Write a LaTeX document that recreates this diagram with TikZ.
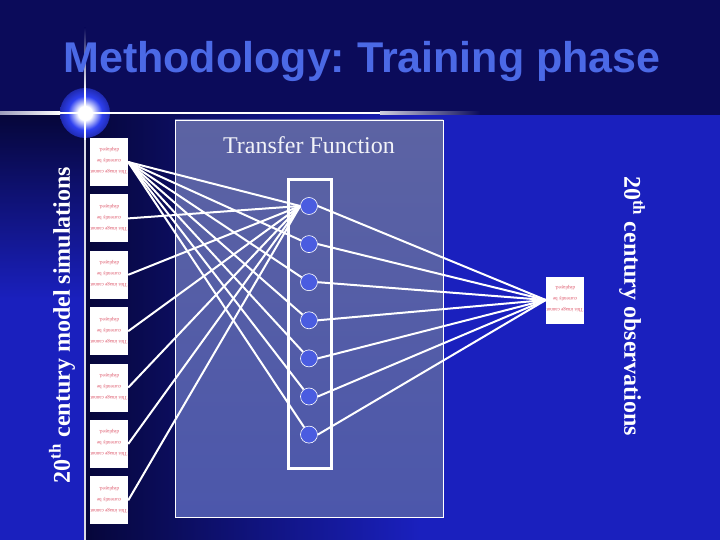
\documentclass[tikz,border=0pt]{standalone}
\usepackage{fontspec}
\setmainfont{Liberation Serif}
\newfontfamily\headfont{Liberation Sans}
\usetikzlibrary{positioning}

\definecolor{topnavy}{HTML}{0B0B5A}
\definecolor{lowdark}{HTML}{06063A}
\definecolor{brightblue}{HTML}{1A20BE}
\definecolor{titleblue}{HTML}{4B69E6}
\definecolor{panelhi}{HTML}{5C63A3}
\definecolor{panello}{HTML}{4C57AB}
\definecolor{unitblue}{HTML}{4A5CE0}
\definecolor{notered}{HTML}{DC5064}
\definecolor{flareblue}{HTML}{2E40F0}

\pgfdeclareradialshading{flare}{\pgfpoint{0bp}{0bp}}{color(0bp)=(white); color(7bp)=(white); color(17bp)=(flareblue); color(36bp)=(topnavy); color(50bp)=(topnavy)}
\newcommand{\flipnote}{\rotatebox{180}{\begin{tabular}{@{}c@{}}This image cannot\\currently be\\displayed.\end{tabular}}}
\frenchspacing

\begin{document}
\begin{tikzpicture}[x=1pt, y=-1pt,
                    inbox/.style={rectangle, fill=white, minimum width=38pt, minimum height=48pt, inner sep=0pt, text=notered, font=\fontsize{5}{11}\selectfont},
                    unit/.style={circle, draw=white, line width=0.6pt, fill=unitblue, minimum size=17pt, inner sep=0pt},
                    panel/.style={rectangle, draw=white, line width=0.8pt, top color=panelhi, bottom color=panello, minimum width=268pt, minimum height=397pt},
                    layerbox/.style={rectangle, draw=white, line width=3pt, minimum width=43pt, minimum height=288pt},
                    sidetext/.style={text=white, font=\fontsize{24}{28}\selectfont\bfseries},
                    link/.style={white, line width=2pt}]
    \useasboundingbox (0,0) rectangle (720,540);
    % background
    \fill[topnavy] (0,0) rectangle (720,115);
    \shade[top color=lowdark, bottom color=brightblue] (0,115) rectangle (85,300);
    \fill[brightblue] (0,300) rectangle (85,540);
    \shade[left color=lowdark, right color=brightblue] (85,115) rectangle (420,540);
    \fill[brightblue] (420,115) rectangle (720,540);
    \shade[shading=flare] (85,113) circle (25pt);
    \shade[left color=topnavy!40!white, right color=white] (0,112) rectangle (60,114.5);
    \fill[white] (60,112) rectangle (380,114.5);
    \shade[left color=white!80!topnavy, right color=topnavy] (380,112) rectangle (480,114.5);
    \shade[top color=topnavy, bottom color=white] (84.2,28) rectangle (85.8,90);
    \fill[white] (84.2,90) rectangle (85.8,140);
    \fill[white!85!topnavy] (84.2,140) rectangle (85.8,540);
    % title
    \node[text=titleblue, font=\headfont\bfseries\fontsize{43}{50}\selectfont, anchor=base] (title) at (362,73) {Methodology: Training phase};
    % panel
    \node[panel]          (tf)      at (309,318.5)            {};
    \node[text=white!92!panelhi, font=\fontsize{24}{28}\selectfont] (tflabel) at (309,145) {Transfer Function};
    \node[layerbox]       (hid)     at (309.5,324)            {};
    % nodes
    \node[inbox]          (in1)     at (109,162)              {\flipnote};
    \node[inbox]          (in2)     [below=8pt of in1]        {\flipnote};
    \node[inbox]          (in3)     [below=8pt of in2]        {\flipnote};
    \node[inbox]          (in4)     [below=8pt of in3]        {\flipnote};
    \node[inbox]          (in5)     [below=8pt of in4]        {\flipnote};
    \node[inbox]          (in6)     [below=8pt of in5]        {\flipnote};
    \node[inbox]          (in7)     [below=8pt of in6]        {\flipnote};
    \node[unit]           (h1)      at (309,206)              {};
    \node[unit]           (h2)      [below=20.5pt of h1]      {};
    \node[unit]           (h3)      [below=20.5pt of h2]      {};
    \node[unit]           (h4)      [below=20.5pt of h3]      {};
    \node[unit]           (h5)      [below=20.5pt of h4]      {};
    \node[unit]           (h6)      [below=20.5pt of h5]      {};
    \node[unit]           (h7)      [below=20.5pt of h6]      {};
    \node[inbox, minimum height=47pt] (out) at (565,300)      {\flipnote};
    % side labels
    \node[sidetext, rotate=90]  (simlabel) at (62,325)  {20\textsuperscript{th} century model simulations};
    \node[sidetext, rotate=-90] (obslabel) at (632,306) {20\textsuperscript{th} century observations};
    % lines
    \draw[link] (in1.east) -- (h1.west);
    \draw[link] (in1.east) -- (h2);
    \draw[link] (in1.east) -- (h3);
    \draw[link] (in1.east) -- (h4);
    \draw[link] (in1.east) -- (h5);
    \draw[link] (in1.east) -- (h6);
    \draw[link] (in1.east) -- (h7);
    \draw[link] (in2.east) -- (h1.west);
    \draw[link] (in3.east) -- (h1.west);
    \draw[link] (in4.east) -- (h1.west);
    \draw[link] (in5.east) -- (h1.west);
    \draw[link] (in6.east) -- (h1.west);
    \draw[link] (in7.east) -- (h1.west);
    \draw[link] (h1.east) -- (out.west);
    \draw[link] (h2.east) -- (out.west);
    \draw[link] (h3.east) -- (out.west);
    \draw[link] (h4.east) -- (out.west);
    \draw[link] (h5.east) -- (out.west);
    \draw[link] (h6.east) -- (out.west);
    \draw[link] (h7.east) -- (out.west);
\end{tikzpicture}
\end{document}
